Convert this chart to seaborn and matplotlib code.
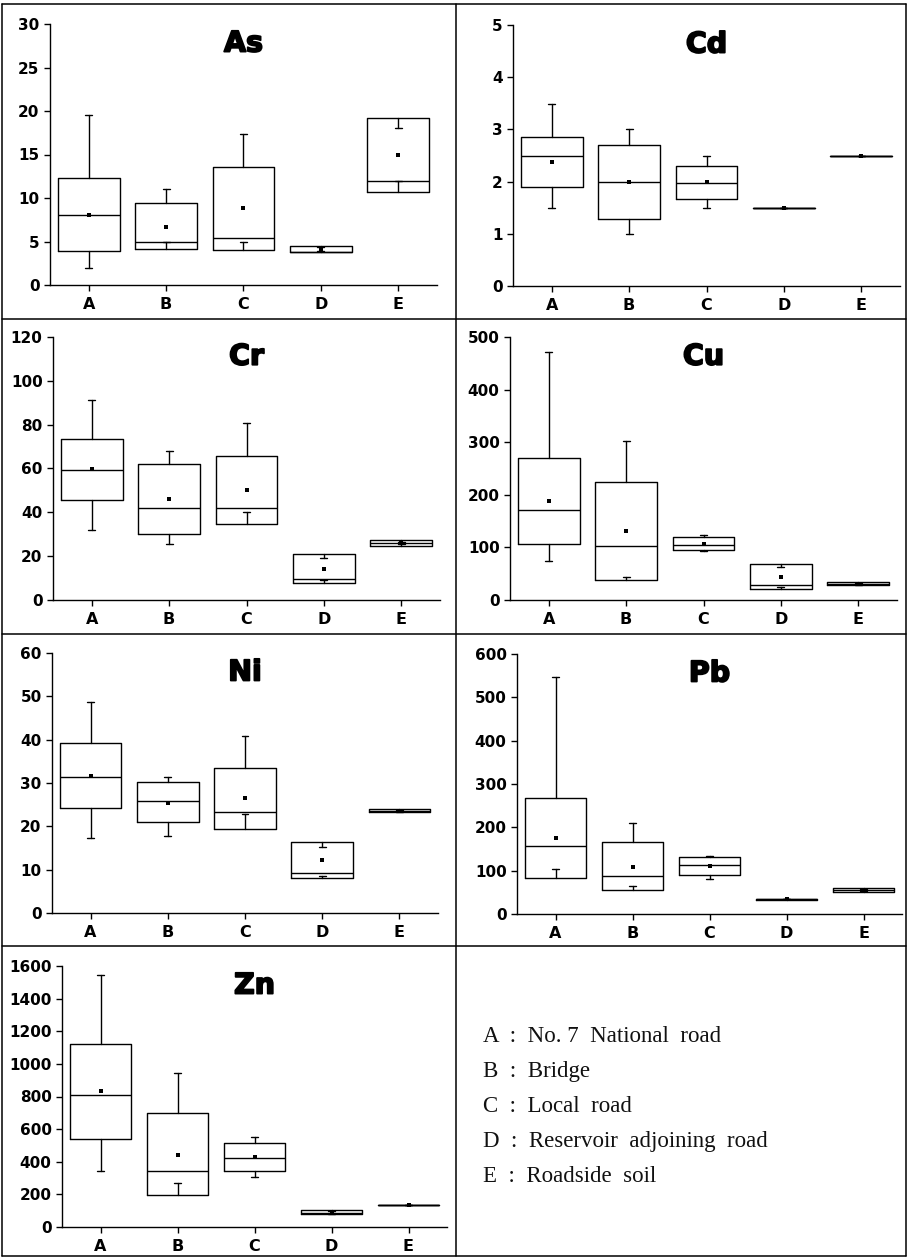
import numpy as np
import matplotlib
matplotlib.use("Agg")
import matplotlib.pyplot as plt
import matplotlib.patheffects as pe
from matplotlib.lines import Line2D
import seaborn as sns

# ---------------- data ----------------
sites = ["A", "B", "C", "D", "E"]

as_lo   = [2.0, 4.9, 4.9, 3.95, 11.9]
as_q1   = [3.9, 4.1, 4.0, 3.8, 10.7]
as_med  = [8.0, 4.9, 5.4, 3.8, 11.9]
as_q3   = [12.3, 9.4, 13.6, 4.5, 19.2]
as_hi   = [19.5, 11.0, 17.4, 4.35, 18.0]
as_mean = [8.1, 6.7, 8.8, 4.1, 14.9]

cd_lo   = [1.5, 0.99, 1.49, 1.5, 2.5]
cd_q1   = [1.89, 1.28, 1.67, 1.5, 2.5]
cd_med  = [2.5, 1.99, 1.98, 1.5, 2.5]
cd_q3   = [2.86, 2.70, 2.30, 1.5, 2.5]
cd_hi   = [3.49, 3.0, 2.5, 1.5, 2.5]
cd_mean = [2.37, 2.0, 2.0, 1.5, 2.5]

cr_lo   = [31.8, 25.7, 40.2, 9.2, 25.6]
cr_q1   = [45.8, 30.3, 34.7, 7.6, 24.8]
cr_med  = [59.2, 42.2, 42.0, 9.7, 26.0]
cr_q3   = [73.5, 62.1, 65.9, 20.9, 27.3]
cr_hi   = [91.2, 68.1, 80.9, 19.0, 26.6]
cr_mean = [59.7, 46.1, 50.1, 14.2, 26.2]

cu_lo   = [74.2, 43.1, 94.0, 24.0, 29.0]
cu_q1   = [106.6, 37.4, 95.2, 20.3, 27.9]
cu_med  = [172.0, 102.2, 104.0, 27.9, 30.5]
cu_q3   = [270.9, 224.6, 119.3, 68.5, 33.6]
cu_hi   = [470.8, 302.7, 124.4, 63.5, 32.0]
cu_mean = [188.5, 130.7, 107.0, 43.8, 30.5]

ni_lo   = [17.4, 17.8, 22.8, 8.5, 23.4]
ni_q1   = [24.3, 20.9, 19.5, 8.1, 23.2]
ni_med  = [31.4, 25.9, 23.3, 9.2, 23.6]
ni_q3   = [39.3, 30.2, 33.5, 16.5, 24.0]
ni_hi   = [48.8, 31.3, 40.8, 15.3, 23.8]
ni_mean = [31.7, 25.5, 26.5, 12.3, 23.6]

pb_lo   = [103.0, 64.6, 80.8, 33.8, 53.0]
pb_q1   = [83.8, 56.2, 90.0, 32.5, 50.8]
pb_med  = [156.2, 88.5, 113.0, 33.8, 55.0]
pb_q3   = [267.7, 165.4, 130.8, 35.0, 60.8]
pb_hi   = [547.7, 210.0, 133.8, 34.5, 58.0]
pb_mean = [174.6, 109.2, 110.0, 33.8, 56.0]

zn_lo   = [343.0, 267.6, 304.4, 80.0, 132.8]
zn_q1   = [537.0, 196.0, 341.0, 77.6, 132.8]
zn_med  = [807.0, 343.0, 420.8, 85.0, 132.8]
zn_q3   = [1123.6, 700.7, 512.8, 104.0, 132.8]
zn_hi   = [1546.0, 941.8, 549.6, 100.0, 132.8]
zn_mean = [831.6, 443.0, 427.0, 88.0, 132.8]

legend_lines = [
    "A  :  No. 7  National  road",
    "B  :  Bridge",
    "C  :  Local  road",
    "D  :  Reservoir  adjoining  road",
    "E  :  Roadside  soil",
]

# ---------------- style ----------------
sns.set_style("ticks")
plt.rcParams["font.family"] = ["DejaVu Sans"]
plt.rcParams["axes.linewidth"] = 1.0

W, H = 908, 1258
fig = plt.figure(figsize=(W / 100, H / 100), dpi=100)


def frac(left, right, top, bottom):
    return [left / W, 1 - bottom / H, (right - left) / W, (bottom - top) / H]


panels = [
    ("As", as_lo, as_q1, as_med, as_q3, as_hi, as_mean, 30, 5, frac(50, 437, 24, 285)),
    ("Cd", cd_lo, cd_q1, cd_med, cd_q3, cd_hi, cd_mean, 5, 1, frac(513, 900, 25, 286)),
    ("Cr", cr_lo, cr_q1, cr_med, cr_q3, cr_hi, cr_mean, 120, 20, frac(53, 440, 337, 600)),
    ("Cu", cu_lo, cu_q1, cu_med, cu_q3, cu_hi, cu_mean, 500, 100, frac(510, 897, 337, 600)),
    ("Ni", ni_lo, ni_q1, ni_med, ni_q3, ni_hi, ni_mean, 60, 10, frac(52, 438, 653, 913)),
    ("Pb", pb_lo, pb_q1, pb_med, pb_q3, pb_hi, pb_mean, 600, 100, frac(517, 902, 654, 914)),
    ("Zn", zn_lo, zn_q1, zn_med, zn_q3, zn_hi, zn_mean, 1600, 200, frac(62, 447, 966, 1227)),
]

pos = np.arange(len(sites))
lp = dict(color="black", linewidth=1.0)

for name, lo, q1, med, q3, hi, mean, ymax, ystep, rect in panels:
    ax = fig.add_axes(rect)
    stats = [dict(whislo=lo[i], q1=q1[i], med=med[i], q3=q3[i], whishi=hi[i],
                  fliers=[], label=sites[i]) for i in range(len(sites))]
    ax.bxp(stats, positions=pos, widths=0.8, showfliers=False, capwidths=0.09,
           boxprops=lp, medianprops=lp, whiskerprops=lp, capprops=lp)
    sns.scatterplot(x=pos, y=mean, marker="s", s=10, color="black",
                    linewidth=0, ax=ax, zorder=5)
    ax.set_xlim(-0.5, 4.5)
    ax.set_ylim(0, ymax)
    ax.set_yticks(np.arange(0, ymax + ystep / 2, ystep))
    ax.set_xticks(pos)
    ax.set_xticklabels(sites)
    ax.tick_params(axis="y", direction="out", length=4, width=1, pad=3.5,
                   labelsize=11, colors="black")
    ax.tick_params(axis="x", direction="out", length=4, width=1, pad=4.5,
                   labelsize=11.5, colors="black")
    for lab in ax.get_xticklabels() + ax.get_yticklabels():
        lab.set_fontweight("bold")
    sns.despine(ax=ax)
    ax.spines["left"].set_color("black")
    ax.spines["bottom"].set_color("black")
    ax.set_facecolor("white")
    ax.text(0.5, 0.925, name, transform=ax.transAxes, ha="center", va="center",
            fontsize=20.5, fontweight="bold", color="black",
            path_effects=[pe.withStroke(linewidth=1.3, foreground="black")])

# legend text block
for i, line in enumerate(legend_lines):
    fig.text(483 / W, 1 - (1037 + 35 * i) / H, line, ha="left", va="center",
             fontsize=16.5, family=["Liberation Serif", "DejaVu Serif"], color="#111111")

# table frame
def hline(y, x0=2, x1=906):
    fig.add_artist(Line2D([x0 / W, x1 / W], [1 - y / H, 1 - y / H],
                          transform=fig.transFigure, color="black", lw=1.1))

def vline(x, y0=4, y1=1256):
    fig.add_artist(Line2D([x / W, x / W], [1 - y0 / H, 1 - y1 / H],
                          transform=fig.transFigure, color="black", lw=1.1))

for y in [4, 319, 634, 946, 1256]:
    hline(y)
for x in [2, 456, 906]:
    vline(x)

fig.savefig("out.png", dpi=100, facecolor="white")
